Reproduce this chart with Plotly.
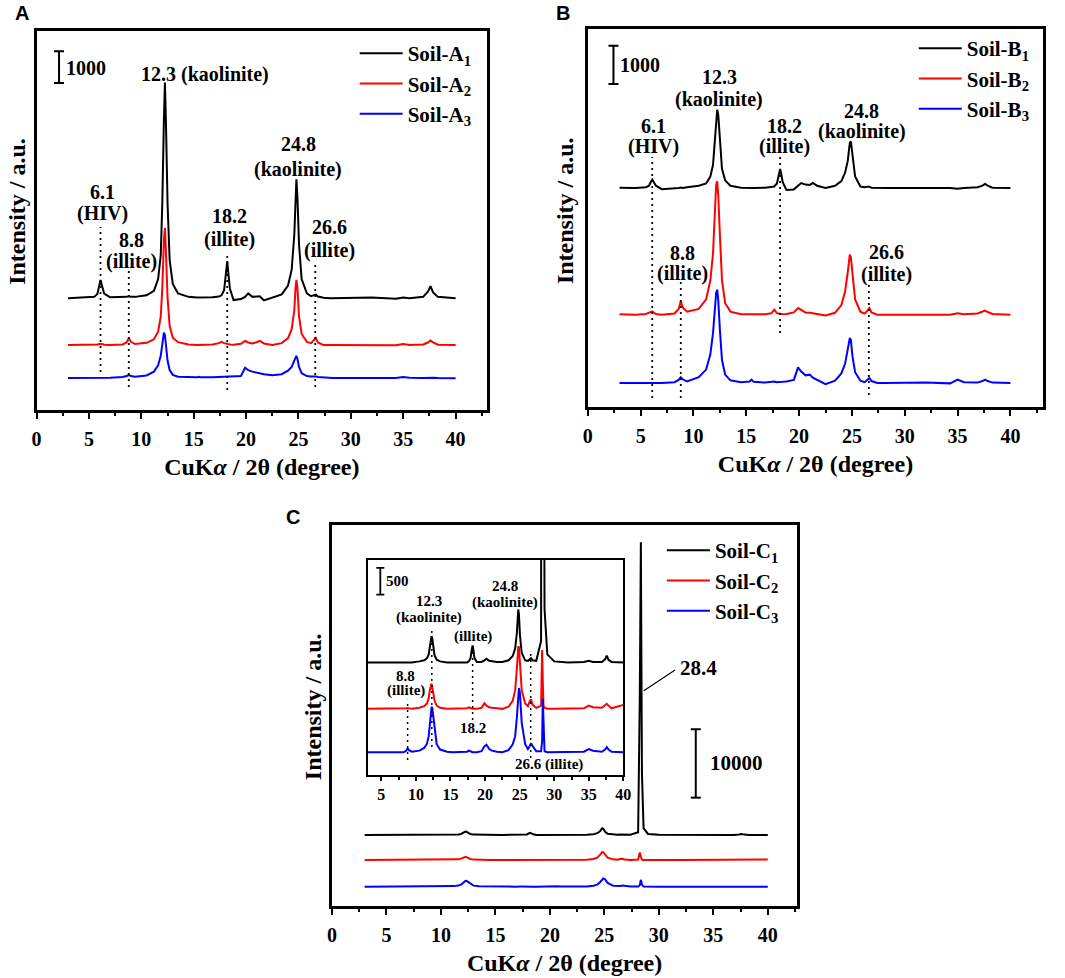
import plotly.graph_objects as go

# ---------------- data ----------------
two_theta = [3.0, 4.5, 5.5, 5.8, 5.95, 6.1, 6.25, 6.45, 7.0,
             8.2, 8.6, 8.8, 9.0, 9.4, 10.5,
             11.2, 11.6, 11.85, 12.0, 12.15, 12.25, 12.35, 12.5, 12.7, 13.0, 13.5, 14.5,
             15.3, 15.5, 15.7, 16.8,
             17.4, 17.65, 17.9, 18.05, 18.2, 18.3, 18.45, 18.8,
             19.5, 19.9, 20.2, 20.6, 21.0, 21.3, 21.7, 22.5, 23.4,
             24.0, 24.35, 24.6, 24.72, 24.8, 24.9, 25.05, 25.3, 25.8,
             26.2, 26.45, 26.65, 26.85, 27.4,
             28.1, 28.25, 28.35, 28.45, 28.6, 29.0,
             30.0, 32.0, 34.3, 35.0, 35.6, 36.9, 37.35, 37.6, 37.85, 38.3, 40.0]

soil_a1 = [0, 10, 40, 130, 350, 570, 380, 140, 30,
           20, 40, 60, 40, 40, 90,
           230, 600, 1350, 3000, 5600, 6800, 5500, 3000, 1200, 450, 150, 40,
           20, 20, 20, 30,
           50, 90, 250, 700, 1170, 800, 300, -60,
           -30, 40, 150, 40, 50, 60, -70, 20, 120,
           400, 900, 2000, 3300, 3750, 3200, 1700, 600, 150,
           60, 100, 110, 50, 10,
           0, 0, 0, 0, 0, 0,
           0, 20, -20, 20, 0, 40, 200, 380, 180, 40, 0]
soil_a2 = [0, 0, 10, 20, 30, 40, 30, 10, 0,
           20, 80, 220, 100, 30, 70,
           180, 420, 900, 1800, 3300, 3700, 2900, 1500, 600, 230, 90, 20,
           0, 0, 0, 20,
           60, 100, 60, 40, 40, 30, 20, 10,
           40, 130, 80, 50, 90, 130, 50, 0, 60,
           220, 500, 1100, 1800, 2060, 1800, 900, 350, 100,
           60, 150, 220, 80, 0,
           0, 0, 0, 0, 0, 0,
           -20, 0, -10, 30, 0, 20, 80, 140, 80, 10, 0]
soil_a3 = [0, 0, 10, 10, 10, 20, 10, 10, 10,
           30, 60, 100, 60, 40, 80,
           200, 400, 700, 1100, 1430, 1350, 1000, 550, 250, 100, 40, 20,
           20, 40, 20, 20,
           30, 40, 40, 30, 30, 30, 30, 40,
           60, 320, 250, 200, 170, 160, 120, 90, 120,
           230, 350, 550, 680, 700, 600, 350, 150, 60,
           50, 60, 50, 30, 10,
           0, 0, 0, 0, 0, 0,
           20, 0, 0, 30, 10, 0, 10, 20, 10, 0, -10]

soil_b1 = [10, 0, 20, 60, 150, 217, 150, 60, -30,
           -20, 0, 10, 0, 20, 60,
           120, 300, 600, 1100, 1800, 2045, 1900, 1200, 500, 200, 60, 10,
           0, 0, 0, 10,
           20, 40, 120, 300, 496, 380, 150, -50,
           -40, 60, 130, 90, 80, 130, 60, 0, 60,
           180, 400, 700, 1000, 1180, 1218, 800, 300, 40,
           20, 30, 30, 10, 0,
           0, 0, 0, 0, 0, 0,
           0, 10, 0, -20, 0, 20, 60, 105, 60, 10, 0]
soil_b2 = [10, 0, 20, 50, 80, 87, 50, 20, 0,
           30, 150, 348, 180, 80, 150,
           400, 900, 1600, 2500, 3400, 3480, 3100, 2100, 900, 300, 80, 10,
           0, 0, 10, 10,
           40, 130, 40, 30, 20, 20, 10, 20,
           60, 174, 120, 60, 50, 40, 20, -20, 50,
           250, 600, 1100, 1450, 1566, 1500, 1000, 400, 80,
           30, 100, 174, 60, 0,
           0, 0, 0, 0, 0, 0,
           0, 10, 0, 40, 10, 30, 70, 105, 70, 20, 0]
soil_b3 = [0, 0, 10, 10, 10, 10, 10, 0, 0,
           20, 80, 148, 90, 40, 150,
           350, 750, 1300, 1900, 2350, 2436, 2150, 1400, 600, 220, 70, 20,
           40, 87, 30, 10,
           20, 40, 20, 20, 20, 20, 30, 40,
           80, 409, 300, 200, 218, 140, 90, -30, 60,
           250, 500, 900, 1100, 1175, 1120, 700, 280, 60,
           20, 80, 130, 50, 0,
           0, 0, 0, 0, 0, 0,
           0, 10, -10, 87, 20, 10, 50, 87, 50, 10, 0]

soil_c1 = [0, 0, 0, 0, 0, 0, 0, 0, 0,
           0, 0, 10, 0, 0, 20,
           40, 80, 150, 280, 440, 490, 460, 300, 130, 50, 20, 0,
           0, 0, 0, 0,
           0, 20, 80, 220, 320, 250, 90, 10,
           10, 40, 70, 30, 20, 20, 10, 10, 40,
           120, 260, 550, 850, 990, 900, 500, 180, 40,
           30, 70, 80, 40, 30,
           400, 20000, 42850, 9000, 1000, 150,
           20, 0, 10, 30, 10, 10, 60, 125, 50, 10, 0]
soil_c2 = [0, 0, 0, 0, 0, 0, 0, 0, 0,
           0, 10, 15, 10, 0, 20,
           50, 100, 200, 340, 450, 470, 420, 300, 150, 60, 20, 0,
           0, 0, 0, 0,
           10, 30, 10, 0, 0, 0, 0, 0,
           20, 105, 60, 30, 20, 10, 10, 0, 40,
           150, 350, 750, 1050, 1170, 1150, 800, 350, 100,
           50, 140, 180, 80, 20,
           60, 1100, 500, 60, 20, 0,
           0, 0, 10, 60, 30, 20, 60, 95, 60, 10, 75]
soil_c3 = [0, 0, 0, 0, 0, 0, 0, 0, 0,
           0, 30, 75, 40, 10, 30,
           80, 160, 300, 500, 720, 830, 850, 700, 400, 150, 50, 10,
           0, 0, 0, 0,
           10, 30, 10, 0, 0, 0, 0, 0,
           20, 110, 140, 60, 30, 20, 10, 0, 40,
           150, 300, 650, 900, 1080, 1200, 1100, 550, 150,
           60, 110, 170, 120, 20,
           20, 200, 1000, 300, 20, 0,
           0, 0, 10, 60, 30, 10, 50, 95, 50, 10, 0]

# vertical stacking offsets (counts) used in each panel
offsets_a = [3530, 2050, 1010]
offsets_b = [5718, 2410, 627]
offsets_c = [10400, 6730, 2830]
offsets_inset = [2103, 1236, 425]

names_a = ["Soil-A<sub>1</sub>", "Soil-A<sub>2</sub>", "Soil-A<sub>3</sub>"]
names_b = ["Soil-B<sub>1</sub>", "Soil-B<sub>2</sub>", "Soil-B<sub>3</sub>"]
names_c = ["Soil-C<sub>1</sub>", "Soil-C<sub>2</sub>", "Soil-C<sub>3</sub>"]
colors = ["#000000", "#FF0000", "#0000FF"]

x_ticks = [0, 5, 10, 15, 20, 25, 30, 35, 40]
inset_ticks = [5, 10, 15, 20, 25, 30, 35, 40]

# ---------------- figure ----------------
SERIF = "Liberation Serif"
W, H = 1065, 978


def px_x(p):
    return p / W


def px_y(p):
    return 1 - p / H


fig = go.Figure()


def add_series(series, offsets, names, xa, ya, legend, show, tag):
    for i, (s, off, nm, col) in enumerate(zip(series, offsets, names, colors)):
        fig.add_trace(go.Scatter(
            x=two_theta, y=[v + off for v in s], mode="lines", name=nm,
            line=dict(color=col, width=2), xaxis=xa, yaxis=ya,
            legend=legend, legendgroup=f"{tag}{i}", showlegend=show,
            hoverinfo="skip"))


add_series([soil_a1, soil_a2, soil_a3], offsets_a, names_a, "x", "y", "legend", True, "a")
add_series([soil_b1, soil_b2, soil_b3], offsets_b, names_b, "x2", "y2", "legend2", True, "b")
add_series([soil_c1, soil_c2, soil_c3], offsets_c, names_c, "x3", "y3", "legend3", True, "c")
add_series([soil_c1, soil_c2, soil_c3], offsets_inset, names_c, "x4", "y4", "legend3", False, "c")

tickfont = dict(family=SERIF, size=20, color="black", weight="bold")
titlefont = dict(family=SERIF, size=24, color="black", weight="bold")
xtitle = "CuK<i>α</i> / 2θ (degree)"
ytitle = "Intensity / a.u."


def xaxis_cfg(domain, rng, anchor):
    return dict(domain=domain, range=rng, anchor=anchor, tickmode="array",
                tickvals=x_ticks, ticks="outside", ticklen=6, tickwidth=2,
                tickcolor="black", tickfont=tickfont, ticklabelstandoff=3,
                minor=dict(dtick=2.5, tick0=0, ticks="outside", ticklen=3,
                           tickwidth=2, tickcolor="black"),
                showline=True, mirror=True, linewidth=2.5, linecolor="black",
                showgrid=False, zeroline=False,
                title=dict(text=xtitle, font=titlefont, standoff=10))


def yaxis_cfg(domain, rng, anchor):
    return dict(domain=domain, range=rng, anchor=anchor, showticklabels=False,
                ticks="", showline=True, mirror=True, linewidth=2.5,
                linecolor="black", showgrid=False, zeroline=False)


legend_font = dict(family=SERIF, size=21, color="black", weight="bold")


def legend_cfg(x_px, y_px):
    return dict(x=px_x(x_px), y=px_y(y_px), xanchor="left", yanchor="top",
                bgcolor="rgba(255,255,255,0)", borderwidth=0, font=legend_font,
                tracegroupgap=0, itemwidth=43)


fig.update_layout(
    width=W, height=H, margin=dict(l=0, r=0, t=0, b=0),
    paper_bgcolor="white", plot_bgcolor="white",
    xaxis=xaxis_cfg([px_x(32), px_x(488)], [0, 43], "y"),
    yaxis=yaxis_cfg([px_y(410), px_y(31)], [0, 11960], "x"),
    xaxis2=xaxis_cfg([px_x(590), px_x(1051)], [0, 43.1], "y2"),
    yaxis2=yaxis_cfg([px_y(407), px_y(29)], [0, 9870], "x2"),
    xaxis3=xaxis_cfg([px_x(331), px_x(802)], [0, 42.7], "y3"),
    yaxis3=yaxis_cfg([px_y(906), px_y(525)], [0, 55780], "x3"),
    xaxis4=dict(domain=[px_x(367), px_x(626)], range=[3, 40], anchor="y4",
                tickmode="array", tickvals=inset_ticks, ticks="outside",
                ticklen=4, tickwidth=1.5, tickcolor="black",
                tickfont=dict(family=SERIF, size=16, color="black", weight="bold"),
                minor=dict(dtick=2.5, tick0=0, ticks="outside", ticklen=2.5,
                           tickwidth=1.5, tickcolor="black"),
                showline=True, mirror=True, linewidth=2, linecolor="black",
                showgrid=False, zeroline=False),
    yaxis4=dict(domain=[px_y(775), px_y(559.5)], range=[0, 4027], anchor="x4",
                showticklabels=False, ticks="", showline=True, mirror=True,
                linewidth=2, linecolor="black", showgrid=False, zeroline=False),
    legend=legend_cfg(354, 33),
    legend2=legend_cfg(920, 28),
    legend3=legend_cfg(665, 530),
    showlegend=True,
)

# y-axis titles (placed as rotated text beside each frame)
for cx, cy in [(12, 211), (567, 211), (312, 707)]:
    fig.add_annotation(x=px_x(cx), y=px_y(cy), xref="paper", yref="paper",
                       text=ytitle, textangle=-90, showarrow=False,
                       xanchor="center", yanchor="middle", font=titlefont)


def label(lines, x, ys, xr, yr, size=20, anchor="center"):
    for t, y in zip(lines, ys):
        fig.add_annotation(x=x, y=y, xref=xr, yref=yr, text=t, showarrow=False,
                           xanchor=anchor, yanchor="middle",
                           font=dict(family=SERIF, size=size, color="black",
                                     weight="bold"))


def dotted(x, y0, y1, xr, yr, w=1.8):
    fig.add_shape(type="line", x0=x, x1=x, y0=y0, y1=y1, xref=xr, yref=yr,
                  line=dict(color="black", width=w, dash="2px,4px"))


def scale_bar(x, y0, y1, xr, yr, cap=5, w=2):
    fig.add_shape(type="line", x0=x, x1=x, y0=y0, y1=y1, xref=xr, yref=yr,
                  line=dict(color="black", width=w))
    for yy in (y0, y1):
        fig.add_shape(type="line", xsizemode="pixel", xanchor=x, x0=-cap, x1=cap,
                      y0=yy, y1=yy, xref=xr, yref=yr,
                      line=dict(color="black", width=w))


# ---- panel A annotations ----
label(["12.3 (kaolinite)"], 16.1, [10600], "x", "y")
label(["6.1", "(HIV)"], 6.29, [6888, 6205], "x", "y")
label(["8.8", "(illite)"], 9.03, [5364, 4679], "x", "y")
label(["18.2", "(illite)"], 18.4, [6121, 5386], "x", "y")
label(["24.8", "(kaolinite)"], 25.0, [8392, 7604], "x", "y")
label(["26.6", "(illite)"], 27.95, [5783, 5048], "x", "y")
label(["1000"], 2.62, [10800], "x", "y", anchor="left")
scale_bar(2.14, 10320, 11320, "x", "y")
for xv, a, b in [(6.1, 1199, 5773), (8.8, 726, 4416), (18.2, 631, 4890), (26.6, 726, 4574)]:
    dotted(xv, a, b, "x", "y")

# ---- panel B annotations ----
label(["12.3", "(kaolinite)"], 12.46, [8608, 8042], "x2", "y2")
label(["6.1", "(HIV)"], 6.25, [7337, 6797], "x2", "y2")
label(["18.2", "(illite)"], 18.58, [7337, 6797], "x2", "y2")
label(["24.8", "(kaolinite)"], 25.91, [7729, 7206], "x2", "y2")
label(["8.8", "(illite)"], 8.93, [4013, 3491], "x2", "y2")
label(["26.6", "(illite)"], 28.27, [4039, 3465], "x2", "y2")
label(["1000"], 2.83, [8929], "x2", "y2", anchor="left")
scale_bar(2.43, 8433, 9433, "x2", "y2")
for xv, a, b in [(6.1, 235, 6527), (8.8, 235, 3316), (18.2, 1932, 6527), (26.6, 313, 3238)]:
    dotted(xv, a, b, "x2", "y2")

# ---- panel C annotations ----
label(["28.4"], 31.8, [34800], "x3", "y3", size=21, anchor="left")
fig.add_shape(type="line", x0=28.62, y0=31520, x1=31.49, y1=34550, xref="x3", yref="y3",
              line=dict(color="black", width=1.2))
scale_bar(33.39, 15860, 25860, "x3", "y3")
label(["10000"], 34.55, [20890], "x3", "y3", size=21, anchor="left")

# ---- inset annotations ----
label(["12.3", "(kaolinite)"], 11.96, [3246, 2935], "x4", "y4", size=15)
label(["24.8", "(kaolinite)"], 22.9, [3540, 3227], "x4", "y4", size=15)
label(["(illite)"], 18.27, [2590], "x4", "y4", size=15)
label(["8.8", "(illite)"], 8.55, [1854, 1573], "x4", "y4", size=15)
label(["18.2"], 18.27, [875], "x4", "y4", size=15)
label(["26.6 (illite)"], 29.28, [187], "x4", "y4", size=15)
label(["500"], 5.45, [3620], "x4", "y4", size=15, anchor="left")
scale_bar(4.85, 3371, 3871, "x4", "y4", cap=4, w=1.8)
for xv, a, b in [(8.8, 281, 1405), (12.3, 524, 2753), (18.2, 1030, 2341), (26.6, 318, 2285)]:
    dotted(xv, a, b, "x4", "y4", w=1.5)

# ---- panel letters ----
for letter, lx, ly in [("A", 8, 13), ("B", 556, 13), ("C", 282, 517)]:
    fig.add_annotation(x=px_x(lx), y=px_y(ly), xref="paper", yref="paper",
                       text=letter, showarrow=False, xanchor="left", yanchor="middle",
                       font=dict(family="Liberation Sans", size=20, color="black",
                                 weight="bold"))

# the page's default 8px body margin would shift the whole figure; remove it
fig.write_html("out.html", config={"displayModeBar": False},
               post_script="document.body.style.margin='0px';")
